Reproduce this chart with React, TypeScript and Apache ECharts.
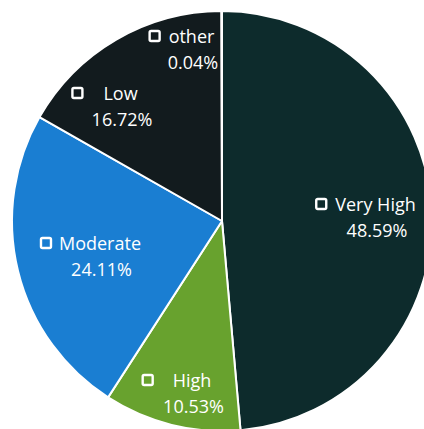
import React, { useEffect, useRef } from "react";
import * as echarts from "echarts";

const categories = ["Very High", "High", "Moderate", "Low", "other"];
const values = [48.59, 10.53, 24.11, 16.72, 0.04];
const colors = ["#0d2b2c", "#68a22e", "#1a7ed2", "#121b1e", "#121b1e"];
// label styling: gap between the square icon and the name, and label block centres
const labelGap = [9, 20, 8, 21, 9];
const labelPos: [number, number][] = [
  [366, 217],
  [177, 393],
  [91, 256],
  [105, 106],
  [182, 49],
];
const BOX = 13;

export default function App() {
  const ref = useRef<HTMLDivElement>(null);
  useEffect(() => {
    document.body.style.margin = "0";
    const chart = echarts.init(ref.current!, undefined, { renderer: "svg" });
    const rich: Record<string, any> = {
      box: {
        width: BOX - 3,
        height: BOX - 3,
        borderColor: "#ffffff",
        borderWidth: 2.4,
        borderRadius: 1.5,
      },
      name: {
        color: "#ffffff",
        fontFamily: "Open Sans",
        fontSize: 18,
        lineHeight: 26,
      },
    };
    labelGap.forEach((g, i) => {
      rich["gap" + i] = { width: g };
      rich["pct" + i] = {
        color: "#ffffff",
        fontFamily: "Open Sans",
        fontSize: 18,
        lineHeight: 26,
        padding: [0, 0, 0, BOX + g],
      };
    });
    chart.setOption({
      animation: false,
      backgroundColor: "#ffffff",
      series: [
        {
          type: "pie",
          center: [222, 221],
          radius: [0, 210],
          startAngle: 90,
          clockwise: true,
          avoidLabelOverlap: false,
          itemStyle: { borderColor: "#ffffff", borderWidth: 2 },
          label: {
            show: true,
            position: "inside",
            color: "#ffffff",
            fontFamily: "Open Sans",
            fontSize: 18,
            lineHeight: 26,
            align: "center",
            formatter: (p: any) =>
              `{box|}{gap${p.dataIndex}|}{name|${p.name}}\n{pct${p.dataIndex}|${p.value.toFixed(2)}%}`,
            rich,
          },
          labelLine: { show: false },
          labelLayout: (params: any) => {
            const pos = labelPos[params.dataIndex];
            return { x: pos[0], y: pos[1], align: "center", verticalAlign: "middle" };
          },
          data: categories.map((c, i) => ({
            name: c,
            value: values[i],
            itemStyle: { color: colors[i] },
          })),
        },
      ],
    });
    return () => chart.dispose();
  }, []);
  return <div ref={ref} style={{ width: 424, height: 429 }} />;
}
